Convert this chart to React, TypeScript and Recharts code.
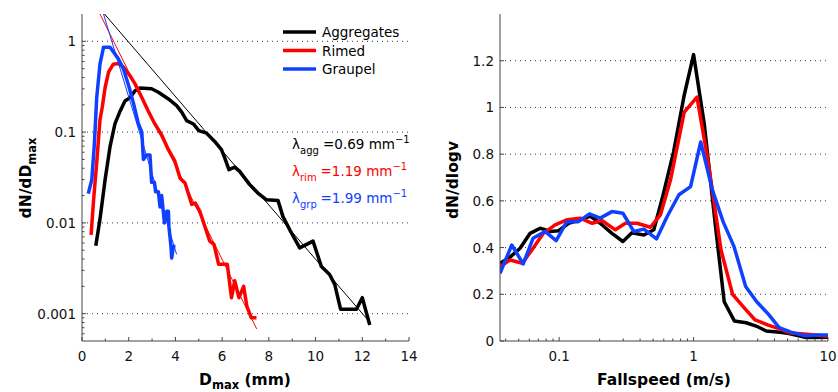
import React from 'react';
import { LineChart, Line, XAxis, YAxis, ReferenceLine, Customized } from 'recharts';

const FONT = '"DejaVu Sans", sans-serif';
const BLACK = '#000000';
const RED = '#ff0000';
const BLUE = '#1040ff';
const AXIS = '#444444';

// ---------- Left panel: size distributions dN/dDmax vs Dmax (mm) ----------
const aggregatesPSD: [number, number][] = [
  [0.59, 0.0056], [0.77, 0.011], [0.99, 0.030], [1.2, 0.069], [1.41, 0.123], [1.63, 0.17],
  [1.84, 0.22], [2.06, 0.24], [2.27, 0.286], [2.48, 0.306], [2.98, 0.30], [3.27, 0.275],
  [3.7, 0.232], [4.05, 0.196], [4.27, 0.166], [4.48, 0.134], [4.77, 0.123], [5.0, 0.104],
  [5.33, 0.0975], [5.68, 0.079], [5.97, 0.064], [6.11, 0.052], [6.29, 0.0386], [6.54, 0.0412],
  [6.75, 0.0369], [7.18, 0.0264], [7.53, 0.0213], [7.89, 0.018], [8.39, 0.0177], [8.6, 0.0118],
  [8.96, 0.0078], [9.32, 0.0053], [9.89, 0.0063], [10.25, 0.0033], [10.6, 0.0027], [10.82, 0.0021],
  [11.07, 0.00112], [11.75, 0.00112], [12.0, 0.0015], [12.32, 0.00075],
];
const rimedPSD: [number, number][] = [
  [0.39, 0.0074], [0.49, 0.017], [0.63, 0.046], [0.77, 0.136], [0.87, 0.19], [0.99, 0.31],
  [1.14, 0.46], [1.34, 0.56], [1.56, 0.57], [1.77, 0.52], [2.05, 0.42], [2.27, 0.34],
  [2.56, 0.24], [2.84, 0.17], [3.12, 0.123], [3.41, 0.093], [3.7, 0.064], [3.98, 0.0475],
  [4.2, 0.031], [4.41, 0.0275], [4.7, 0.016], [4.85, 0.0165], [5.04, 0.0135], [5.47, 0.0063],
  [5.65, 0.0058], [5.85, 0.0035], [6.22, 0.0035], [6.4, 0.0015], [6.54, 0.0023], [6.72, 0.0015],
  [6.92, 0.002], [7.06, 0.0012], [7.25, 0.0009], [7.47, 0.0009],
];
const graupelPSD: [number, number][] = [
  [0.27, 0.021], [0.42, 0.030], [0.53, 0.074], [0.63, 0.24], [0.77, 0.56], [0.92, 0.86],
  [1.2, 0.86], [1.34, 0.77], [1.56, 0.64], [1.77, 0.5], [1.99, 0.33], [2.2, 0.21],
  [2.41, 0.125], [2.56, 0.1], [2.63, 0.05], [2.77, 0.056], [2.91, 0.056], [2.98, 0.028],
  [3.1, 0.028], [3.15, 0.022], [3.27, 0.022], [3.34, 0.015], [3.41, 0.02], [3.53, 0.01],
  [3.63, 0.0134], [3.7, 0.0134], [3.72, 0.0092], [3.81, 0.0055], [3.84, 0.0041], [3.91, 0.0055],
  [4.0, 0.0055],
];
// exponential fits (straight on log axis) read as end points
const aggregatesFit: [number, number][] = [[0.96, 2], [12.33, 0.0008]];
const rimedFit: [number, number][] = [[0.77, 2], [7.48, 0.00068]];
const graupelFit: [number, number][] = [[0.92, 2], [4.05, 0.0045]];

const dmaxTicks = [0, 1, 2, 3, 4, 5, 6, 7, 8, 9, 10, 11, 12, 13, 14];
const dmaxLabelled = [0, 2, 4, 6, 8, 10, 12, 14];
const psdMajor = [0.001, 0.01, 0.1, 1];
const psdMinor = [
  0.0006, 0.0007, 0.0008, 0.0009,
  0.002, 0.003, 0.004, 0.005, 0.006, 0.007, 0.008, 0.009,
  0.02, 0.03, 0.04, 0.05, 0.06, 0.07, 0.08, 0.09,
  0.2, 0.3, 0.4, 0.5, 0.6, 0.7, 0.8, 0.9,
];

// ---------- Right panel: dN/dlogv vs fallspeed (m/s) ----------
const aggregatesVel: [number, number][] = [
  [0.0363, 0.333], [0.0431, 0.359], [0.0512, 0.397], [0.0608, 0.461], [0.0722, 0.483],
  [0.0857, 0.469], [0.099, 0.472], [0.1175, 0.504], [0.1435, 0.519], [0.17, 0.535],
  [0.202, 0.504], [0.247, 0.461], [0.298, 0.426], [0.348, 0.463], [0.427, 0.454],
  [0.506, 0.476], [0.59, 0.62], [0.71, 0.81], [0.85, 1.05], [1.0, 1.226], [1.2, 0.93],
  [1.45, 0.5], [1.69, 0.168], [2.01, 0.086], [2.46, 0.078], [2.92, 0.064], [3.47, 0.043],
  [4.36, 0.037], [5.03, 0.033], [6.9, 0.015], [10, 0.016],
];
const rimedVel: [number, number][] = [
  [0.0363, 0.318], [0.0431, 0.347], [0.0532, 0.333], [0.0627, 0.39], [0.0763, 0.461],
  [0.0933, 0.497], [0.114, 0.519], [0.1435, 0.526], [0.176, 0.504], [0.208, 0.516],
  [0.262, 0.476], [0.311, 0.504], [0.38, 0.504], [0.477, 0.487], [0.567, 0.54],
  [0.674, 0.69], [0.852, 0.98], [1.06, 1.044], [1.29, 0.76], [1.6, 0.39], [1.95, 0.2],
  [2.4, 0.14], [2.87, 0.09], [3.55, 0.069], [4.35, 0.052], [5.3, 0.034], [7.0, 0.029],
  [10, 0.02],
];
const graupelVel: [number, number][] = [
  [0.0363, 0.29], [0.0444, 0.411], [0.054, 0.33], [0.064, 0.44], [0.0785, 0.469],
  [0.095, 0.43], [0.114, 0.511], [0.139, 0.511], [0.168, 0.544], [0.202, 0.526],
  [0.247, 0.554], [0.298, 0.547], [0.359, 0.469], [0.427, 0.479], [0.53, 0.437],
  [0.636, 0.533], [0.778, 0.626], [0.95, 0.661], [1.13, 0.852], [1.38, 0.647],
  [1.66, 0.51], [2.0, 0.404], [2.44, 0.233], [2.95, 0.168], [3.6, 0.115], [4.33, 0.057],
  [5.3, 0.038], [6.8, 0.022], [8.4, 0.026], [10, 0.026],
];

const vMajor = [0.1, 1, 10];
const vMinor = [
  0.04, 0.05, 0.06, 0.07, 0.08, 0.09,
  0.2, 0.3, 0.4, 0.5, 0.6, 0.7, 0.8, 0.9,
  2, 3, 4, 5, 6, 7, 8, 9,
];
const densityTicks = [0, 0.2, 0.4, 0.6, 0.8, 1, 1.2];

const legendNames = ['Aggregates', 'Rimed', 'Graupel'];
const legendColors = [BLACK, RED, BLUE];
const lambdaNames = ['agg', 'rim', 'grp'];
const lambdaValues = ['0.69', '1.19', '1.99'];

const toPts = (a: [number, number][]) => a.map(([x, y]) => ({ x, y }));

// plot-area geometry (shared by both panels)
const W = 420;
const H = 392;
const PLOT_LEFT = 82;
const PLOT_TOP = 14;
const PLOT_BOTTOM = 341;

const isIn = (list: number[], v: number) =>
  list.some((m) => Math.abs(m - v) <= 1e-9 * Math.max(1, Math.abs(m)));

const makeXTick = (labelled: number[]) => (props: any) => {
  const { x, payload } = props;
  const v = payload.value;
  const major = isIn(labelled, v);
  return (
    <g>
      <line x1={x} x2={x} y1={PLOT_BOTTOM} y2={PLOT_BOTTOM - (major ? 4 : 2.5)} stroke={AXIS} strokeWidth={1} />
      {major && (
        <text x={x} y={PLOT_BOTTOM + 20} textAnchor="middle" fontSize={13.5} fontFamily={FONT} fill="#111">
          {String(v)}
        </text>
      )}
    </g>
  );
};

const makeYTick = (labelled: number[]) => (props: any) => {
  const { y, payload } = props;
  const v = payload.value;
  const major = isIn(labelled, v);
  return (
    <g>
      <line x1={PLOT_LEFT} x2={PLOT_LEFT + (major ? 4 : 2.5)} y1={y} y2={y} stroke={AXIS} strokeWidth={1} />
      {major && (
        <text x={PLOT_LEFT - 6} y={y + 5} textAnchor="end" fontSize={13.5} fontFamily={FONT} fill="#111">
          {String(v)}
        </text>
      )}
    </g>
  );
};

const LeftOverlay = () => (
  <g fontFamily={FONT}>
    {/* axis titles */}
    <text transform="translate(31,178) rotate(-90)" textAnchor="middle" fontSize={15.5} fontWeight="bold" fill="#000">
      dN/dD<tspan fontSize={11.5} dy={5}>max</tspan>
    </text>
    <text x={245} y={385} textAnchor="middle" fontSize={15.5} fontWeight="bold" fill="#000">
      D<tspan fontSize={11.5} dy={4}>max</tspan>
      <tspan dy={-4}> (mm)</tspan>
    </text>
    {/* legend */}
    {legendNames.map((n, i) => (
      <g key={n}>
        <line x1={283} x2={316} y1={32 + i * 18.5} y2={32 + i * 18.5} stroke={legendColors[i]} strokeWidth={3.5} />
        <text x={322} y={37 + i * 18.5} fontSize={13.5} fill="#000">
          {n}
        </text>
      </g>
    ))}
    {/* slope annotations */}
    {lambdaNames.map((n, i) => (
      <text key={n} x={292} y={149 + i * 27} fontSize={13.5} fill={legendColors[i]}>
        λ<tspan fontSize={10} dy={5}>{n}</tspan>
        <tspan x={i === 0 ? 323 : 320.5} dy={-5}>={lambdaValues[i]} mm</tspan>
        <tspan fontSize={10} dy={-6}>−1</tspan>
      </text>
    ))}
  </g>
);

const RightOverlay = () => (
  <g fontFamily={FONT}>
    <text transform="translate(40,180) rotate(-90)" textAnchor="middle" fontSize={15.5} fontWeight="bold" fill="#000">
      dN/dlogv
    </text>
    <text x={246} y={385} textAnchor="middle" fontSize={15.5} fontWeight="bold" fill="#000">
      Fallspeed (m/s)
    </text>
  </g>
);

const lineProps = {
  dataKey: 'y',
  type: 'linear' as const,
  dot: false,
  activeDot: false,
  isAnimationActive: false,
  strokeLinejoin: 'round' as const,
  strokeLinecap: 'butt' as const,
};

export default function App() {
  return (
    <div style={{ position: 'absolute', left: 0, top: 0, width: 838, height: 392, background: '#fff' }}>
      <div style={{ position: 'absolute', left: 0, top: 0 }}>
        <LineChart width={W} height={H} margin={{ top: PLOT_TOP, right: 11, bottom: 21, left: 32 }}>
          <XAxis
            type="number"
            dataKey="x"
            domain={[0, 14]}
            allowDataOverflow
            ticks={dmaxTicks}
            interval={0}
            height={30}
            tickLine={false}
            axisLine={{ stroke: AXIS }}
            tick={makeXTick(dmaxLabelled)}
          />
          <YAxis
            type="number"
            dataKey="y"
            scale="log"
            domain={[0.0005, 2]}
            allowDataOverflow
            ticks={[...psdMinor, ...psdMajor]}
            interval={0}
            width={50}
            tickLine={false}
            axisLine={{ stroke: AXIS }}
            tick={makeYTick(psdMajor)}
          />
          {psdMajor.map((v) => (
            <ReferenceLine key={v} y={v} stroke="#333" strokeDasharray="1 4" strokeWidth={1} />
          ))}
          <Line {...lineProps} data={toPts(aggregatesPSD)} stroke={BLACK} strokeWidth={3.5} name="Aggregates" />
          <Line {...lineProps} data={toPts(rimedPSD)} stroke={RED} strokeWidth={3.5} name="Rimed" />
          <Line {...lineProps} data={toPts(graupelPSD)} stroke={BLUE} strokeWidth={3.5} name="Graupel" />
          <Line {...lineProps} data={toPts(aggregatesFit)} stroke={BLACK} strokeWidth={1} legendType="none" />
          <Line {...lineProps} data={toPts(rimedFit)} stroke={RED} strokeWidth={1} legendType="none" />
          <Line {...lineProps} data={toPts(graupelFit)} stroke={BLUE} strokeWidth={1} legendType="none" />
          <Customized component={LeftOverlay} />
        </LineChart>
      </div>
      <div style={{ position: 'absolute', left: 418, top: 0 }}>
        <LineChart width={W} height={H} margin={{ top: PLOT_TOP, right: 10, bottom: 21, left: 32 }}>
          <XAxis
            type="number"
            dataKey="x"
            scale="log"
            domain={[0.0363, 10]}
            allowDataOverflow
            ticks={[...vMinor, ...vMajor]}
            interval={0}
            height={30}
            tickLine={false}
            axisLine={{ stroke: AXIS }}
            tick={makeXTick(vMajor)}
          />
          <YAxis
            type="number"
            dataKey="y"
            domain={[0, 1.4]}
            allowDataOverflow
            ticks={densityTicks}
            interval={0}
            width={50}
            tickLine={false}
            axisLine={{ stroke: AXIS }}
            tick={makeYTick(densityTicks)}
          />
          {densityTicks.filter((v) => v > 0).map((v) => (
            <ReferenceLine key={v} y={v} stroke="#333" strokeDasharray="1 4" strokeWidth={1} />
          ))}
          <Line {...lineProps} data={toPts(aggregatesVel)} stroke={BLACK} strokeWidth={3.5} name="Aggregates" />
          <Line {...lineProps} data={toPts(rimedVel)} stroke={RED} strokeWidth={3.5} name="Rimed" />
          <Line {...lineProps} data={toPts(graupelVel)} stroke={BLUE} strokeWidth={3.5} name="Graupel" />
          <Customized component={RightOverlay} />
        </LineChart>
      </div>
    </div>
  );
}
